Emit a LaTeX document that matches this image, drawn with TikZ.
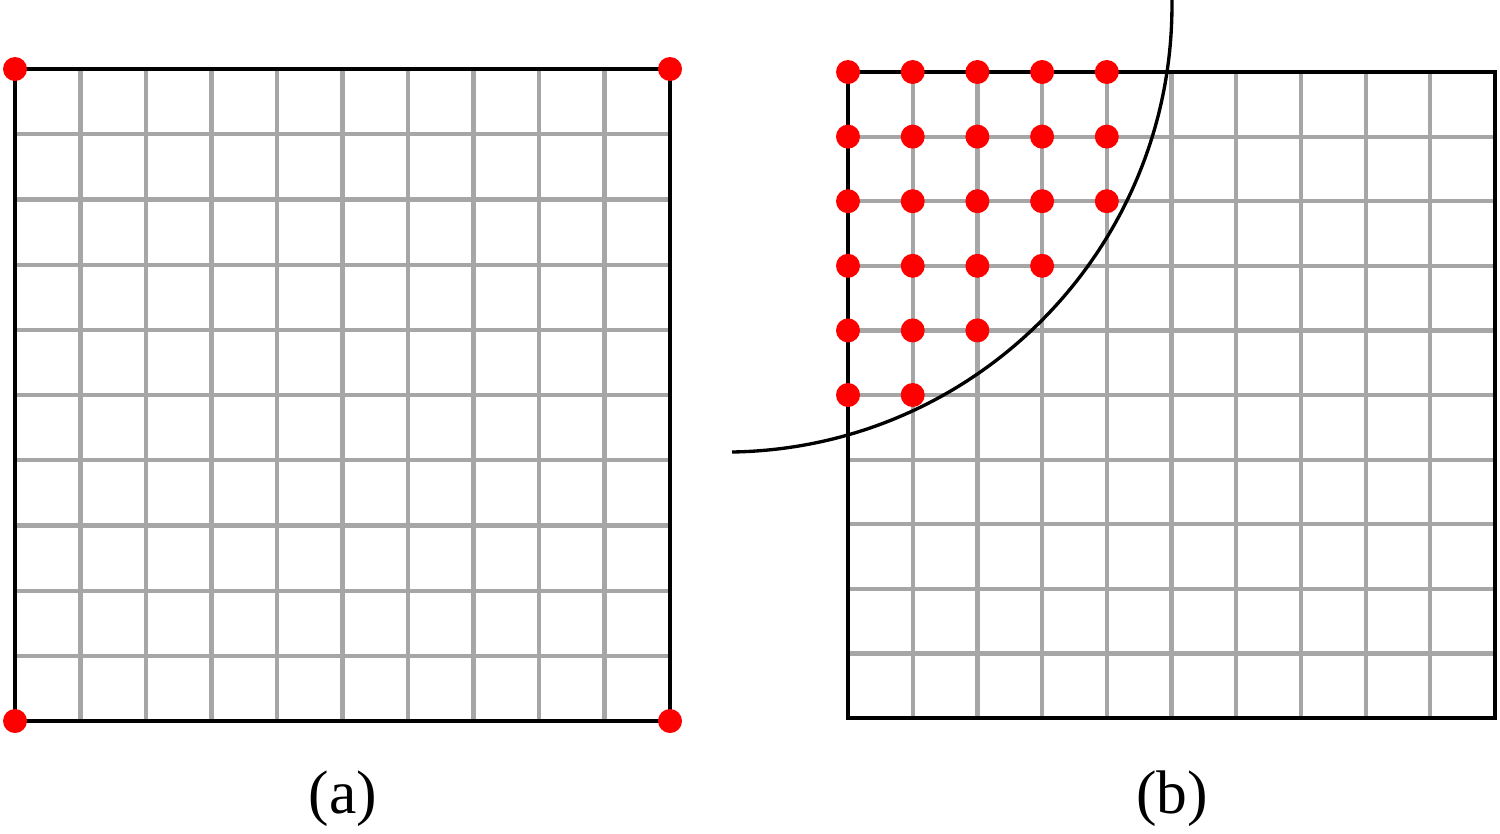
\documentclass[tikz,border=0pt]{standalone}
\usepackage{fontspec}
\setmainfont{Liberation Serif}
\begin{document}
\begin{tikzpicture}[x=0.02cm,y=-0.02cm,
  gridline/.style={draw=gray!70, line width=2.4pt},
  frame/.style={draw=black, line width=1.8pt},
  arcline/.style={draw=black, line width=1.9pt},
  reddot/.style={circle, fill=red, inner sep=0pt, minimum size=0.48cm},
  caption/.style={font=\fontsize{35}{40}\selectfont, anchor=base, inner sep=0pt}]
\useasboundingbox (0,0) rectangle (1500,833);
% ---------- panel (a)
\foreach \i in {1,...,9} {
  \draw[gridline] ({15+65.5*\i},69) -- ({15+65.5*\i},721);
  \draw[gridline] (15,{69+65.2*\i}) -- (670,{69+65.2*\i});
}
\draw[frame] (15,69) rectangle (670,721);
\node[reddot] (a-tl) at (15,69) {};
\node[reddot] (a-tr) at (670,69) {};
\node[reddot] (a-bl) at (15,721) {};
\node[reddot] (a-br) at (670,721) {};
\node[caption] (capa) at (343,813) {(a)};
% ---------- panel (b)
\foreach \i in {1,...,9} {
  \draw[gridline] ({848+64.7*\i},72) -- ({848+64.7*\i},718);
  \draw[gridline] (848,{72+64.6*\i}) -- (1495,{72+64.6*\i});
}
\draw[frame] (848,72) rectangle (1495,718);
\draw[arcline] (732,452) arc[start angle=89.1, end angle=-0.64, radius=447];
\foreach \j/\n in {0/4,1/4,2/4,3/3,4/2,5/1} {
  \foreach \i in {0,...,\n} {
    \node[reddot] (b-\j-\i) at ({848+64.7*\i},{72+64.6*\j}) {};
  }
}
\node[caption] (capb) at (1172,813) {(b)};
\end{tikzpicture}
\end{document}
